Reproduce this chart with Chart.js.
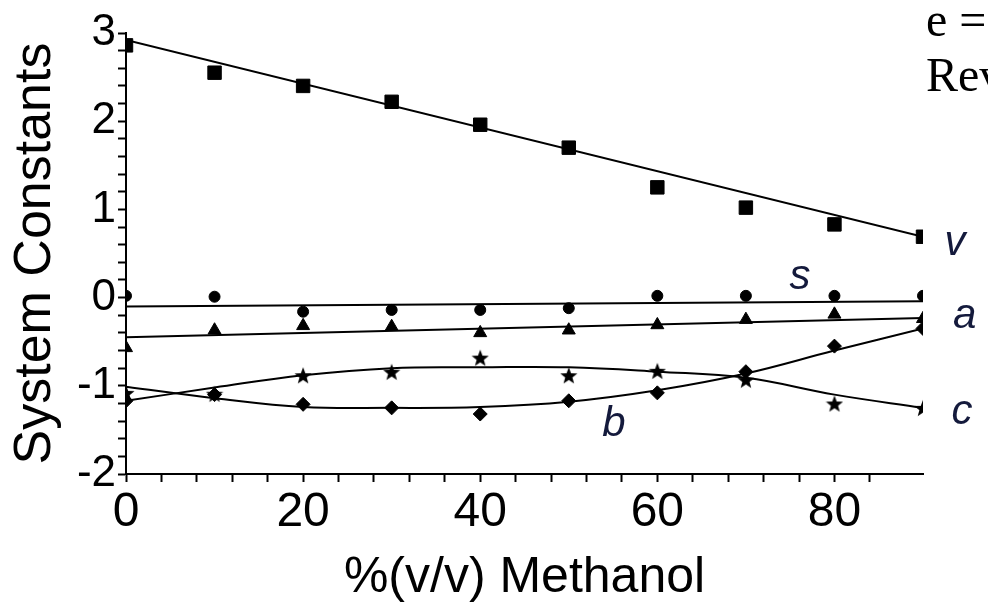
<!DOCTYPE html>
<html>
<head>
<meta charset="utf-8">
<script src="https://cdn.jsdelivr.net/npm/chart.js@4.4.0/dist/chart.umd.min.js"></script>
<style>
    html, body { margin: 0; padding: 0; background: #fff; }
    #wrap { width: 988px; height: 612px; }
</style>
</head>
<body>
<div id="wrap"><canvas id="chart" width="988" height="612"></canvas></div>
<script>
// % methanol of each measurement
var pct = [0, 10, 20, 30, 40, 50, 60, 70, 80, 90];

// measured system constants
var vPts = [2.86, 2.55, 2.40, 2.22, 1.96, 1.70, 1.25, 1.02, 0.83, 0.69];
var sPts = [0.02, 0.01, -0.16, -0.14, -0.14, -0.12, 0.02, 0.02, 0.02, 0.02];
var aPts = [-0.57, -0.37, -0.32, -0.33, -0.40, -0.37, -0.31, -0.25, -0.19, -0.24];
var cPts = [-1.08, -1.09, -0.88, -0.84, -0.68, -0.88, -0.83, -0.93, -1.20, -1.25];
var bPts = [-1.17, -1.10, -1.21, -1.25, -1.32, -1.17, -1.08, -0.84, -0.55, -0.35];

// fitted lines (straight ones only need the two ends)
var fitEnds = [0, 90];
var vFit = [2.92, 0.69];
var sFit = [-0.10, -0.04];
var aFit = [-0.45, -0.23];
var cFit = [-1.17, -1.02, -0.88, -0.80, -0.79, -0.79, -0.84, -0.91, -1.10, -1.25];
var bFit = [-1.01, -1.14, -1.24, -1.25, -1.24, -1.18, -1.05, -0.86, -0.60, -0.35];

// axis ticks
var xLabels = [0, 20, 40, 60, 80];
var yLabels = [-2, -1, 0, 1, 2, 3];

function pairs(xs, ys) {
    return xs.map(function(x, i) { return { x: x, y: ys[i] }; });
}

function starImage(size) {
    var c = document.createElement('canvas');
    c.width = c.height = size;
    var g = c.getContext('2d');
    var r = size / 2, ri = r * 0.42;
    g.beginPath();
    for (var i = 0; i < 10; i++) {
        var ang = -Math.PI / 2 + i * Math.PI / 5;
        var rr = i % 2 ? ri : r;
        g.lineTo(r + rr * Math.cos(ang), r + 1 + rr * Math.sin(ang));
    }
    g.closePath();
    g.fillStyle = '#000';
    g.fill();
    return c;
}

function markers(data, style, radius) {
    return {
        data: data,
        showLine: false,
        pointStyle: style,
        pointRadius: radius,
        pointBackgroundColor: '#000',
        pointBorderColor: '#000',
        pointBorderWidth: 1
    };
}

function fitLine(data, tension) {
    return {
        data: data,
        showLine: true,
        tension: tension,
        borderColor: '#000',
        borderWidth: 2,
        pointRadius: 0
    };
}

// curve names written next to the lines
var curveTags = [
    { text: 'v', x: 93.6, y: 0.62 },
    { text: 's', x: 76.1, y: 0.23 },
    { text: 'a', x: 94.7, y: -0.21 },
    { text: 'c', x: 94.4, y: -1.30 },
    { text: 'b', x: 55.1, y: -1.44 }
];

var tagPlugin = {
    id: 'tags',
    afterDraw: function(chart) {
        var ctx = chart.ctx, sx = chart.scales.x, sy = chart.scales.y;
        ctx.save();
        ctx.fillStyle = '#141a3c';
        ctx.font = 'italic 42px "Liberation Sans", Arial, sans-serif';
        ctx.textAlign = 'center';
        ctx.textBaseline = 'middle';
        curveTags.forEach(function(t) {
            ctx.fillText(t.text, sx.getPixelForValue(t.x), sy.getPixelForValue(t.y));
        });
        // text cut off at the right edge of the picture
        ctx.fillStyle = '#000';
        ctx.font = '48px "Liberation Serif", "Times New Roman", serif';
        ctx.textAlign = 'left';
        ctx.textBaseline = 'alphabetic';
        ctx.fillText('e =', 926, 36);
        ctx.fillText('Rev', 926, 91);
        ctx.restore();
    }
};

var ctx = document.getElementById('chart').getContext('2d');
new Chart(ctx, {
    type: 'scatter',
    data: {
        datasets: [
            markers(pairs(pct, vPts), 'rect', 9.5),
            markers(pairs(pct, sPts), 'circle', 5.5),
            markers(pairs(pct, aPts), 'triangle', 7.5),
            markers(pairs(pct, cPts), starImage(18), 9),
            markers(pairs(pct, bPts), 'rectRot', 7),
            fitLine(pairs(fitEnds, vFit), 0),
            fitLine(pairs(fitEnds, sFit), 0),
            fitLine(pairs(fitEnds, aFit), 0),
            fitLine(pairs(pct, cFit), 0.4),
            fitLine(pairs(pct, bFit), 0.4)
        ]
    },
    options: {
        responsive: false,
        devicePixelRatio: 1,
        animation: false,
        layout: { padding: { top: 33, right: 65, left: 0, bottom: 0 } },
        plugins: {
            legend: { display: false },
            tooltip: { enabled: false }
        },
        scales: {
            x: {
                type: 'linear',
                position: 'bottom',
                min: 0,
                max: 90,
                afterBuildTicks: function(s) {
                    s.ticks = s.ticks.filter(function(t) { return t.value % 4 === 0; });
                },
                afterFit: function(s) { s.height = 138; },
                ticks: {
                    stepSize: 4,
                    autoSkip: false,
                    maxRotation: 0,
                    padding: 2,
                    color: '#000',
                    font: { family: '"Liberation Sans", Arial, sans-serif', size: 48 },
                    callback: function(v) { return xLabels.indexOf(v) >= 0 ? String(v) : ''; }
                },
                grid: { drawOnChartArea: false, drawTicks: true, tickLength: 8, tickWidth: 2, tickColor: '#000' },
                border: { display: true, color: '#000', width: 2 },
                title: {
                    display: true,
                    text: '%(v/v) Methanol',
                    color: '#000',
                    padding: 4,
                    font: { family: '"Liberation Sans", Arial, sans-serif', size: 50 }
                }
            },
            y: {
                type: 'linear',
                min: -2,
                max: 3,
                afterFit: function(s) { s.width = 126; },
                ticks: {
                    stepSize: 0.2,
                    autoSkip: false,
                    padding: 2,
                    color: '#000',
                    font: { family: '"Liberation Sans", Arial, sans-serif', size: 44 },
                    callback: function(v) {
                        var r = Math.round(v);
                        return (Math.abs(v - r) < 1e-6 && yLabels.indexOf(r) >= 0) ? String(r) : '';
                    }
                },
                grid: { drawOnChartArea: false, drawTicks: true, tickLength: 8, tickWidth: 2, tickColor: '#000' },
                border: { display: true, color: '#000', width: 2 },
                title: {
                    display: true,
                    text: 'System Constants',
                    color: '#000',
                    padding: 4,
                    font: { family: '"Liberation Sans", Arial, sans-serif', size: 52 }
                }
            }
        }
    },
    plugins: [tagPlugin]
});
</script>
</body>
</html>
